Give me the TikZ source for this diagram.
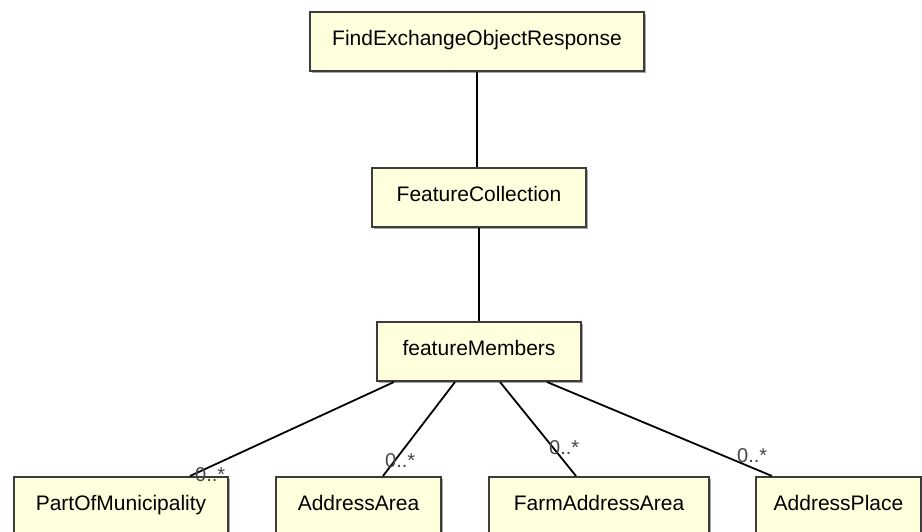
\documentclass[tikz,border=0pt]{standalone}
\usepackage{fontspec}
\setmainfont{Liberation Sans}
\usetikzlibrary{shadows,calc}
\definecolor{boxfill}{RGB}{255,255,221}
\definecolor{boxline}{RGB}{60,60,60}
\definecolor{multcol}{RGB}{70,70,70}
\begin{document}
\begin{tikzpicture}[x=1pt,y=-1pt,
  classbox/.style={draw=boxline, line width=2pt, fill=boxfill, anchor=north west,
    minimum height=59pt, inner sep=0pt, text height=14pt, text depth=7pt,
    font=\fontsize{21}{21}\selectfont,
    drop shadow={shadow xshift=2pt, shadow yshift=-2pt, fill=black, opacity=0.35}},
  conn/.style={line width=1.8pt, black},
  mult/.style={anchor=base west, inner sep=0pt, text=multcol, font=\fontsize{20}{20}\selectfont}]
\useasboundingbox (0,0) rectangle (922,531);
\clip (0,0) rectangle (922,531);
\node[classbox, minimum width=334pt] (resp) at (309,11) {FindExchangeObjectResponse};
\node[classbox, minimum width=214pt] (coll) at (371,167) {FeatureCollection};
\node[classbox, minimum width=204pt] (fm) at (376,321) {featureMembers};
\node[classbox, minimum width=214pt] (pom) at (13,476) {PartOfMunicipality};
\node[classbox, minimum width=165pt] (aa) at (275,476) {AddressArea};
\node[classbox, minimum width=220pt] (faa) at (488,476) {FarmAddressArea};
\node[classbox, minimum width=165pt] (ap) at (755,476) {AddressPlace};
\draw[conn] (resp.south) -- (resp.south |- coll.north);
\draw[conn] (coll.south) -- (coll.south |- fm.north);
\draw[conn] ($(fm.south west)+(18,0)$) -- ($(pom.north west)+(177,0)$);
\draw[conn] ($(fm.south west)+(79,0)$) -- ($(aa.north west)+(108,0)$);
\draw[conn] ($(fm.south west)+(124,0)$) -- ($(faa.north west)+(88,0)$);
\draw[conn] ($(fm.south west)+(171,0)$) -- ($(ap.north west)+(17,0)$);
\node[mult] (m1) at (195,481) {0..*};
\node[mult] (m2) at (385,467) {0..*};
\node[mult] (m3) at (549,454) {0..*};
\node[mult] (m4) at (737,462) {0..*};
\end{tikzpicture}
\end{document}
